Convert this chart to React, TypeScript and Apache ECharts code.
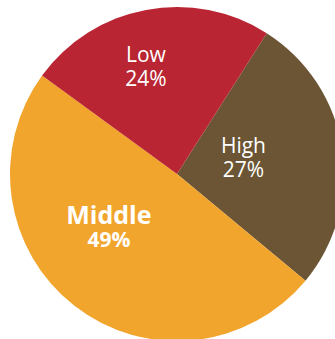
import React, { useEffect, useRef } from "react";
import * as echarts from "echarts";

const categories = ["High", "Middle", "Low"];
const values = [27, 49, 24];
const colors = ["#6B5535", "#F2A52D", "#B92532"];
const bold = [false, true, false];
const labelOffsets: [number, number][] = [[-19, -4], [-15, -17], [-15, -23]];

export default function App() {
  const ref = useRef<HTMLDivElement>(null);
  useEffect(() => {
    const chart = echarts.init(ref.current!, null, { renderer: "svg" });
    chart.setOption({
      animation: false,
      series: [
        {
          type: "pie",
          center: [177, 174],
          radius: [0, 167],
          startAngle: 57.5,
          clockwise: true,
          silent: true,
          label: {
            show: true,
            position: "inside",
            color: "#ffffff",
            fontFamily: "Open Sans",
          },
          labelLine: { show: false },
          itemStyle: { borderWidth: 0 },
          data: categories.map((c, i) => ({
            name: c,
            value: values[i],
            itemStyle: { color: colors[i] },
            label: {
              offset: labelOffsets[i],
              formatter: (p: any) =>
                bold[i]
                  ? `{bn|${p.name}}\n{bp|${p.value}%}`
                  : `{n|${p.name}}\n{p|${p.value}%}`,
              rich: {
                n: { fontSize: 21, lineHeight: 24, color: "#fff", fontFamily: "Open Sans", align: "center" },
                p: { fontSize: 21, lineHeight: 24, color: "#fff", fontFamily: "Open Sans", align: "center" },
                bn: { fontSize: 25, lineHeight: 27, fontWeight: "bold", color: "#fff", fontFamily: "Open Sans", align: "center" },
                bp: { fontSize: 21, lineHeight: 23, fontWeight: "bold", color: "#fff", fontFamily: "Open Sans", align: "center" },
              },
            },
          })),
        },
      ],
    });
    return () => chart.dispose();
  }, []);
  return (
    <div
      ref={ref}
      style={{ position: "fixed", left: 0, top: 0, width: 335, height: 339, background: "#fff" }}
    />
  );
}
